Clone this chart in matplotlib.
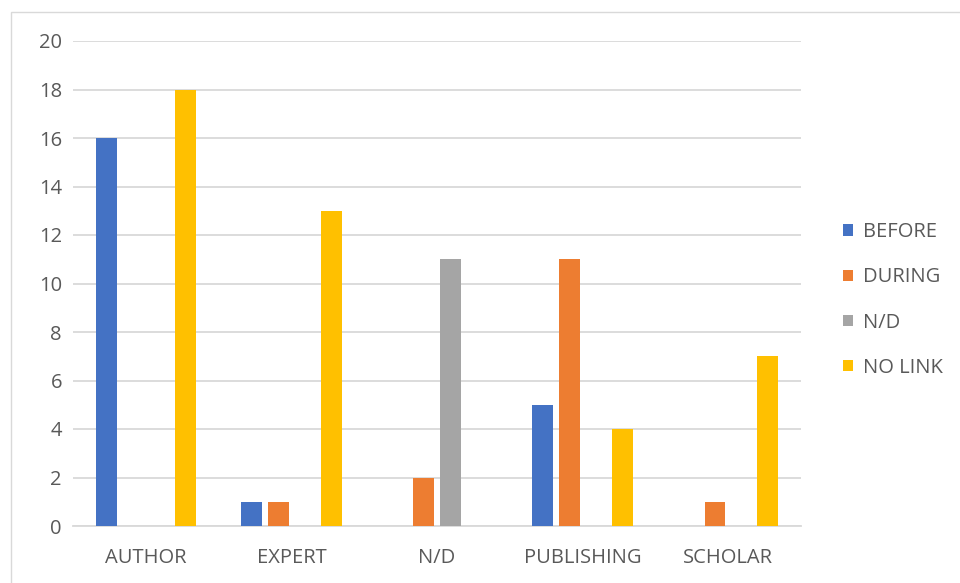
import matplotlib.pyplot as plt
import numpy as np
from matplotlib.patches import Rectangle

plt.rcParams['font.family'] = ['Open Sans', 'DejaVu Sans']

categories = ['AUTHOR', 'EXPERT', 'N/D', 'PUBLISHING', 'SCHOLAR']
series = ['BEFORE', 'DURING', 'N/D', 'NO LINK']
before = [16, 1, 0, 5, 0]
during = [0, 1, 2, 11, 1]
nd = [0, 0, 11, 0, 0]
no_link = [18, 13, 0, 4, 7]
colors = ['#4472C4', '#ED7D31', '#A5A5A5', '#FFC000']
text_color = '#595959'

fig = plt.figure(figsize=(9.6, 5.83), dpi=100)
ax = fig.add_axes([73/960, 1 - 526/583, (801 - 73)/960, (526 - 41)/583])

x = np.arange(len(categories))
step = 0.1815
width = 0.144
for i, (vals, c) in enumerate(zip([before, during, nd, no_link], colors)):
    ax.bar(x + (i - 1.5) * step, vals, width, color=c, label=series[i], zorder=3)

ax.set_xlim(-0.5, len(categories) - 0.5)
ax.set_ylim(0, 20)
ax.set_yticks(range(0, 21, 2))
ax.set_xticks(x)
ax.set_xticklabels(categories)
ax.tick_params(axis='both', length=0, labelsize=14.5, colors=text_color)
ax.tick_params(axis='y', pad=8)
ax.tick_params(axis='x', pad=16)
ax.grid(axis='y', color='#D9D9D9', linewidth=1.3, zorder=0)
for s in ['top', 'right', 'left']:
    ax.spines[s].set_visible(False)
ax.spines['bottom'].set_color('#D9D9D9')
ax.spines['bottom'].set_linewidth(1.3)

fig.legend(loc='center left', bbox_to_anchor=(825/960, 1 - 300/583), frameon=False,
           fontsize=14.5, labelcolor=text_color, handlelength=0.5, handleheight=0.5,
           handletextpad=0.5, labelspacing=1.25)

# thin outer frame of the chart area
fig.patches.append(Rectangle((10.5/960, -0.1), 1.2, 1.1 - 12.5/583, transform=fig.transFigure,
                             fill=False, edgecolor='#D9D9D9', linewidth=1))

fig.savefig('out.png', dpi=100)
